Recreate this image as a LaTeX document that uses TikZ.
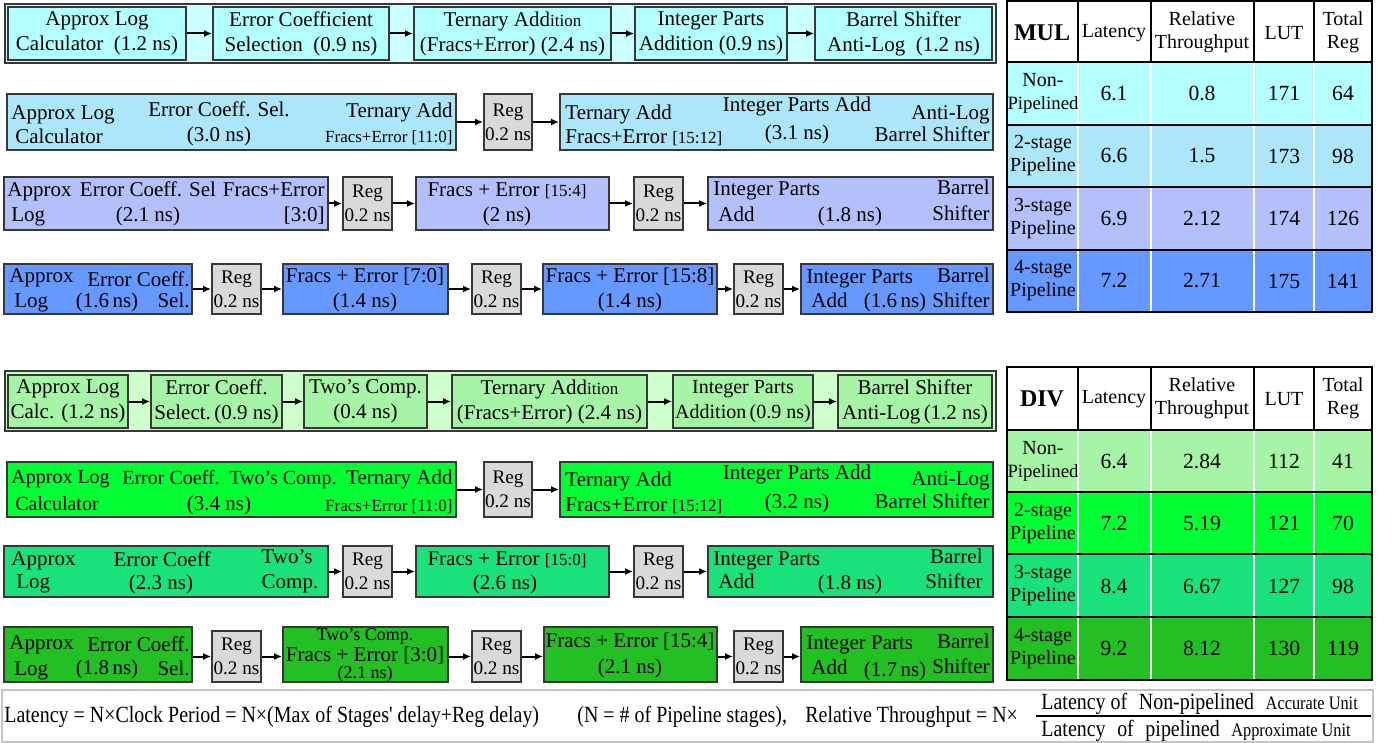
\documentclass[tikz,border=0pt]{standalone}
\usepackage{fontspec}
\setmainfont{Liberation Serif}
\newfontfamily\narrowrm[FakeStretch=0.86]{Liberation Serif}
\usetikzlibrary{arrows.meta, positioning, fit}

\definecolor{edge}{RGB}{55,55,55}
\definecolor{regfill}{RGB}{217,217,217}
\definecolor{mulframe}{RGB}{204,255,255}
\definecolor{mulA}{RGB}{179,255,255}
\definecolor{mulB}{RGB}{171,230,250}
\definecolor{mulC}{RGB}{180,192,252}
\definecolor{mulD}{RGB}{102,153,255}
\definecolor{divframe}{RGB}{204,255,204}
\definecolor{divA}{RGB}{166,245,166}
\definecolor{divB}{RGB}{0,255,51}
\definecolor{divC}{RGB}{25,226,122}
\definecolor{divD}{RGB}{34,192,34}
\definecolor{noteline}{RGB}{195,195,195}

\newcommand{\sml}[1]{{\fontsize{8.5}{10}\selectfont #1}}

\begin{document}
\begin{tikzpicture}[
    x=0.5pt, y=-0.5pt,
    >={Latex[length=4pt, width=3.5pt]}, % small filled heads
    font=\fontsize{10.5}{12.5}\selectfont,
    stage/.style={draw=edge, line width=0.9pt, inner sep=0pt}, % pipeline stage
    reg/.style={stage, fill=regfill}, % register
    rowframe/.style={draw=edge, line width=1pt},
    link/.style={->, line width=1pt},
    txt/.style={inner sep=0pt},
    mid/.style={txt, align=center},
    regtext/.style={txt, align=center, font=\fontsize{9.6}{12}\selectfont},
    lt/.style={txt, anchor=base west},
    rt/.style={txt, anchor=base east},
    ct/.style={txt, anchor=base},
    cell/.style={inner sep=0pt, align=center, font=\fontsize{10}{11.5}\selectfont},
    num/.style={cell, font=\fontsize{10.8}{12}\selectfont}
]
    \useasboundingbox (0,0) rectangle (1392,743);

    % === MUL: non-pipelined ===
    \draw[rowframe, fill=mulframe] (5,4) rectangle (996,63);
    \node[stage, fill=mulA, fit={(8,7) (186,60)}] (m1a) {};
    \node[stage, fill=mulA, fit={(213,7) (389,60)}] (m1b) {};
    \node[stage, fill=mulA, fit={(414,7) (611,60)}] (m1c) {};
    \node[stage, fill=mulA, fit={(635,7) (787,60)}] (m1d) {};
    \node[stage, fill=mulA, fit={(815,7) (992,60)}] (m1e) {};
    \node[mid] (m1a-t) at (m1a) {Approx Log\\Calculator\enspace(1.2 ns)};
    \node[mid] (m1b-t) at (m1b) {Error Coefficient\\Selection\enspace(0.9 ns)};
    \node[mid] (m1c-t) at (m1c) {Ternary Add\sml{ition}\\(Fracs+Error) (2.4 ns)};
    \node[mid] (m1d-t) at (m1d) {Integer Parts\\Addition (0.9 ns)};
    \node[mid] (m1e-t) at (m1e) {Barrel Shifter\\Anti-Log\enspace(1.2 ns)};
    \draw[link] (m1a) -- (m1b);
    \draw[link] (m1b) -- (m1c);
    \draw[link] (m1c) -- (m1d);
    \draw[link] (m1d) -- (m1e);

    % === MUL: 2-stage ===
    \node[stage, fill=mulB, fit={(7,94) (456,150)}] (m2a) {};
    \node[reg, fit={(484,94) (532,150)}] (m2r) {};
    \node[stage, fill=mulB, fit={(560,94) (993,150)}] (m2b) {};
    \node[regtext] (m2r-t) at (m2r) {Reg\\0.2 ns};
    \node[lt] (m2a-1) at (11,120) {Approx Log};
    \node[lt] (m2a-2) at (15,144) {Calculator};
    \node[ct] (m2a-3) at (219,117) {Error Coeff. Sel.};
    \node[ct] (m2a-4) at (219,142) {(3.0 ns)};
    \node[rt] (m2a-5) at (453,118) {Ternary Add};
    \node[rt] (m2a-6) at (453,143) {\sml{Fracs+Error [11:0]}};
    \node[lt] (m2b-1) at (565,120) {Ternary Add};
    \node[lt] (m2b-2) at (565,144) {Fracs+Error \sml{[15:12]}};
    \node[ct] (m2b-3) at (797,112) {Integer Parts Add};
    \node[ct] (m2b-4) at (797,140) {(3.1 ns)};
    \node[rt] (m2b-5) at (990,120) {Anti-Log};
    \node[rt] (m2b-6) at (990,142) {Barrel Shifter};
    \draw[link] (m2a) -- (m2r);
    \draw[link] (m2r) -- (m2b);

    % === MUL: 3-stage ===
    \node[stage, fill=mulC, fit={(4,177) (328,230)}] (m3a) {};
    \node[reg, fit={(343,177) (392,230)}] (m3r1) {};
    \node[stage, fill=mulC, fit={(416,177) (609,230)}] (m3b) {};
    \node[reg, fit={(634,177) (683,230)}] (m3r2) {};
    \node[stage, fill=mulC, fit={(708,177) (993,230)}] (m3c) {};
    \node[regtext] (m3r1-t) at (m3r1) {Reg\\0.2 ns};
    \node[regtext] (m3r2-t) at (m3r2) {Reg\\0.2 ns};
    \node[lt] (m3a-1) at (7,197) {Approx};
    \node[lt] (m3a-2) at (11,222) {Log};
    \node[ct] (m3a-3) at (148,197) {Error Coeff. Sel};
    \node[ct] (m3a-4) at (148,222) {(2.1 ns)};
    \node[rt] (m3a-5) at (325,197) {Fracs+Error};
    \node[rt] (m3a-6) at (325,222) {[3:0]};
    \node[ct] (m3b-1) at (507,197) {Fracs + Error \sml{[15:4]}};
    \node[ct] (m3b-2) at (507,222) {(2 ns)};
    \node[lt] (m3c-1) at (713,196) {Integer Parts};
    \node[lt] (m3c-2) at (718,222) {Add};
    \node[ct] (m3c-3) at (850,222) {(1.8 ns)};
    \node[rt] (m3c-4) at (990,195) {Barrel};
    \node[rt] (m3c-5) at (990,221) {Shifter};
    \draw[link] (m3a) -- (m3r1);
    \draw[link] (m3r1) -- (m3b);
    \draw[link] (m3b) -- (m3r2);
    \draw[link] (m3r2) -- (m3c);

    % === MUL: 4-stage ===
    \node[stage, fill=mulD, fit={(4,264) (192,314)}] (m4a) {};
    \node[reg, fit={(212,264) (261,314)}] (m4r1) {};
    \node[stage, fill=mulD, fit={(283,264) (448,314)}] (m4b) {};
    \node[reg, fit={(472,264) (521,314)}] (m4r2) {};
    \node[stage, fill=mulD, fit={(543,264) (717,314)}] (m4c) {};
    \node[reg, fit={(734,264) (783,314)}] (m4r3) {};
    \node[stage, fill=mulD, fit={(801,264) (993,314)}] (m4d) {};
    \node[regtext] (m4r1-t) at (m4r1) {Reg\\0.2 ns};
    \node[regtext] (m4r2-t) at (m4r2) {Reg\\0.2 ns};
    \node[regtext] (m4r3-t) at (m4r3) {Reg\\0.2 ns};
    \node[lt] (m4a-1) at (9,283) {Approx};
    \node[lt] (m4a-2) at (14,307) {Log};
    \node[rt] (m4a-3) at (190,286) {Error Coeff.};
    \node[ct] (m4a-4) at (107,307) {(1.6\,ns)};
    \node[rt] (m4a-5) at (190,307) {Sel.};
    \node[ct] (m4b-1) at (365,283) {Fracs + Error [7:0]};
    \node[ct] (m4b-2) at (365,307) {(1.4 ns)};
    \node[ct] (m4c-1) at (630,283) {Fracs + Error [15:8]};
    \node[ct] (m4c-2) at (630,307) {(1.4 ns)};
    \node[lt] (m4d-1) at (806,284) {Integer Parts};
    \node[lt] (m4d-2) at (811,307) {Add};
    \node[ct] (m4d-3) at (895,307) {(1.6\,ns)};
    \node[rt] (m4d-4) at (990,283) {Barrel};
    \node[rt] (m4d-5) at (990,307) {Shifter};
    \draw[link] (m4a) -- (m4r1);
    \draw[link] (m4r1) -- (m4b);
    \draw[link] (m4b) -- (m4r2);
    \draw[link] (m4r2) -- (m4c);
    \draw[link] (m4c) -- (m4r3);
    \draw[link] (m4r3) -- (m4d);

    % === DIV: non-pipelined ===
    \draw[rowframe, fill=divframe] (5,371) rectangle (996,431);
    \node[stage, fill=divA, fit={(8,375) (128,428)}] (d1a) {};
    \node[stage, fill=divA, fit={(151,375) (282,428)}] (d1b) {};
    \node[stage, fill=divA, fit={(304,375) (427,428)}] (d1c) {};
    \node[stage, fill=divA, fit={(452,375) (647,428)}] (d1d) {};
    \node[stage, fill=divA, fit={(673,375) (813,428)}] (d1e) {};
    \node[stage, fill=divA, fit={(838,375) (992,428)}] (d1f) {};
    \node[mid] (d1a-t) at (d1a) {Approx Log\\Calc. (1.2 ns)};
    \node[mid] (d1b-t) at (d1b) {Error Coeff.\\Select.\,(0.9 ns)};
    \node[mid] (d1c-t) at (d1c) {Two's Comp.\\(0.4 ns)};
    \node[mid] (d1d-t) at (d1d) {Ternary Add\sml{ition}\\(Fracs+Error) (2.4 ns)};
    \node[mid, font=\fontsize{10}{12.5}\selectfont] (d1e-t) at (d1e) {Integer Parts\\Addition\,(0.9 ns)};
    \node[mid] (d1f-t) at (d1f) {Barrel Shifter\\Anti-Log\,(1.2 ns)};
    \draw[link] (d1a) -- (d1b);
    \draw[link] (d1b) -- (d1c);
    \draw[link] (d1c) -- (d1d);
    \draw[link] (d1d) -- (d1e);
    \draw[link] (d1e) -- (d1f);

    % === DIV: 2-stage ===
    \node[stage, fill=divB, fit={(7,462) (456,517)}] (d2a) {};
    \node[reg, fit={(484,462) (532,517)}] (d2r) {};
    \node[stage, fill=divB, fit={(560,462) (993,517)}] (d2b) {};
    \node[regtext] (d2r-t) at (d2r) {Reg\\0.2 ns};
    \begin{scope}[font=\fontsize{10}{12}\selectfont]
        \node[lt] (d2a-1) at (11,483) {Approx Log};
        \node[lt] (d2a-2) at (15,510) {Calculator};
        \node[ct] (d2a-3) at (171,484) {Error Coeff.};
        \node[ct] (d2a-4) at (283,484) {Two's Comp.};
    \end{scope}
    \node[ct] (d2a-5) at (219,510) {(3.4 ns)};
    \node[rt] (d2a-6) at (453,484) {Ternary Add};
    \node[rt] (d2a-7) at (453,511) {\sml{Fracs+Error [11:0]}};
    \node[lt] (d2b-1) at (565,486) {Ternary Add};
    \node[lt] (d2b-2) at (565,511) {Fracs+Error \sml{[15:12]}};
    \node[ct] (d2b-3) at (797,479) {Integer Parts Add};
    \node[ct] (d2b-4) at (797,508) {(3.2 ns)};
    \node[rt] (d2b-5) at (990,485) {Anti-Log};
    \node[rt] (d2b-6) at (990,508) {Barrel Shifter};
    \draw[link] (d2a) -- (d2r);
    \draw[link] (d2r) -- (d2b);

    % === DIV: 3-stage ===
    \node[stage, fill=divC, fit={(4,546) (328,597)}] (d3a) {};
    \node[reg, fit={(343,546) (392,597)}] (d3r1) {};
    \node[stage, fill=divC, fit={(416,546) (609,597)}] (d3b) {};
    \node[reg, fit={(634,546) (683,597)}] (d3r2) {};
    \node[stage, fill=divC, fit={(708,546) (993,597)}] (d3c) {};
    \node[regtext] (d3r1-t) at (d3r1) {Reg\\0.2 ns};
    \node[regtext] (d3r2-t) at (d3r2) {Reg\\0.2 ns};
    \node[lt] (d3a-1) at (11,565) {Approx};
    \node[lt] (d3a-2) at (16,588) {Log};
    \node[ct] (d3a-3) at (162,566) {Error Coeff};
    \node[ct] (d3a-4) at (161,589) {(2.3 ns)};
    \node[ct] (d3a-5) at (287,563) {Two's};
    \node[ct] (d3a-6) at (290,588) {Comp.};
    \node[ct] (d3b-1) at (507,565) {Fracs + Error \sml{[15:0]}};
    \node[ct] (d3b-2) at (505,589) {(2.6 ns)};
    \node[lt] (d3c-1) at (713,565) {Integer Parts};
    \node[lt] (d3c-2) at (718,588) {Add};
    \node[ct] (d3c-3) at (850,589) {(1.8 ns)};
    \node[rt] (d3c-4) at (983,563) {Barrel};
    \node[rt] (d3c-5) at (983,588) {Shifter};
    \draw[link] (d3a) -- (d3r1);
    \draw[link] (d3r1) -- (d3b);
    \draw[link] (d3b) -- (d3r2);
    \draw[link] (d3r2) -- (d3c);

    % === DIV: 4-stage ===
    \node[stage, fill=divD, fit={(4,627) (192,682)}] (d4a) {};
    \node[reg, fit={(212,631) (261,682)}] (d4r1) {};
    \node[stage, fill=divD, fit={(283,627) (448,682)}] (d4b) {};
    \node[reg, fit={(472,631) (521,682)}] (d4r2) {};
    \node[stage, fill=divD, fit={(544,627) (717,682)}] (d4c) {};
    \node[reg, fit={(734,631) (783,682)}] (d4r3) {};
    \node[stage, fill=divD, fit={(801,627) (993,682)}] (d4d) {};
    \node[regtext] (d4r1-t) at (d4r1) {Reg\\0.2 ns};
    \node[regtext] (d4r2-t) at (d4r2) {Reg\\0.2 ns};
    \node[regtext] (d4r3-t) at (d4r3) {Reg\\0.2 ns};
    \node[lt] (d4a-1) at (9,649) {Approx};
    \node[lt] (d4a-2) at (14,675) {Log};
    \node[rt] (d4a-3) at (190,651) {Error Coeff.};
    \node[ct] (d4a-4) at (107,674) {(1.8\,ns)};
    \node[rt] (d4a-5) at (190,675) {Sel.};
    \node[ct, font=\fontsize{9}{10}\selectfont] (d4b-1) at (365,640) {Two's Comp.};
    \node[ct] (d4b-2) at (365,661) {Fracs + Error [3:0]};
    \node[ct, font=\fontsize{9}{10}\selectfont] (d4b-3) at (365,678) {(2.1 ns)};
    \node[ct] (d4c-1) at (630,647) {Fracs + Error [15:4]};
    \node[ct] (d4c-2) at (630,673) {(2.1 ns)};
    \node[lt] (d4d-1) at (806,649) {Integer Parts};
    \node[lt] (d4d-2) at (811,674) {Add};
    \node[ct] (d4d-3) at (895,676) {(1.7\,ns)};
    \node[rt] (d4d-4) at (990,648) {Barrel};
    \node[rt] (d4d-5) at (990,673) {Shifter};
    \draw[link] (d4a.east |- d4r1) -- (d4r1);
    \draw[link] (d4r1) -- (d4b.west |- d4r1);
    \draw[link] (d4b.east |- d4r2) -- (d4r2);
    \draw[link] (d4r2) -- (d4c.west |- d4r2);
    \draw[link] (d4c.east |- d4r3) -- (d4r3);
    \draw[link] (d4r3) -- (d4d.west |- d4r3);

    % === MUL table ===
    \fill[white] (1007,1) rectangle (1372,62);
    \foreach \c/\ya/\yb in {mulA/62/125, mulB/125/187, mulC/187/250, mulD/250/312}
        \fill[\c] (1007,\ya) rectangle (1372,\yb);
    \foreach \xx in {1078,1151,1254,1314} {
        \draw[line width=1pt] (\xx,1) -- (\xx,62);
        \draw[white, line width=1pt] (\xx,63) -- (\xx,311);
    }
    \foreach \yy in {62,125,187,250}
        \draw[line width=1pt] (1007,\yy) -- (1372,\yy);
    \draw[line width=1pt] (1007,1) rectangle (1372,312);
    \node[cell, font=\bfseries\fontsize{12}{13}\selectfont] (mul-h0) at (1042,33) {MUL};
    \node[cell] (mul-h1) at (1114,33) {Latency};
    \node[cell] (mul-h2) at (1202,32) {Relative\\Throughput};
    \node[cell] (mul-h3) at (1284,33) {LUT};
    \node[cell] (mul-h4) at (1343,32) {Total\\Reg};
    \foreach \lab/\lat/\thr/\lut/\reg [count=\r] in {%
        {Non-\\{\fontsize{9.4}{11}\selectfont Pipelined}}/6.1/0.8/171/64,
        {2-stage\\Pipeline}/6.6/1.5/173/98,
        {3-stage\\Pipeline}/6.9/2.12/174/126,
        {4-stage\\Pipeline}/7.2/2.71/175/141} {
        \node[cell] (mul-\r-0) at (1043,31+62.5*\r) {\lab};
        \node[num] (mul-\r-1) at (1114,31+62.5*\r) {\lat};
        \node[num] (mul-\r-2) at (1202,31+62.5*\r) {\thr};
        \node[num] (mul-\r-3) at (1284,31+62.5*\r) {\lut};
        \node[num] (mul-\r-4) at (1343,31+62.5*\r) {\reg};
    }

    % === DIV table ===
    \fill[white] (1007,367) rectangle (1372,430);
    \foreach \c/\ya/\yb in {divA/430/492, divB/492/554, divC/554/617, divD/617/680}
        \fill[\c] (1007,\ya) rectangle (1372,\yb);
    \foreach \xx in {1078,1151,1254,1314} {
        \draw[line width=1pt] (\xx,367) -- (\xx,430);
        \draw[white, line width=1pt] (\xx,431) -- (\xx,679);
    }
    \foreach \yy in {430,492,554,617}
        \draw[line width=1pt] (1007,\yy) -- (1372,\yy);
    \draw[line width=1pt] (1007,367) rectangle (1372,680);
    \node[cell, font=\bfseries\fontsize{12}{13}\selectfont] (div-h0) at (1042,399) {DIV};
    \node[cell] (div-h1) at (1114,399) {Latency};
    \node[cell] (div-h2) at (1202,398) {Relative\\Throughput};
    \node[cell] (div-h3) at (1284,399) {LUT};
    \node[cell] (div-h4) at (1343,398) {Total\\Reg};
    \foreach \lab/\lat/\thr/\lut/\reg [count=\r] in {%
        {Non-\\{\fontsize{9.4}{11}\selectfont Pipelined}}/6.4/2.84/112/41,
        {2-stage\\Pipeline}/7.2/5.19/121/70,
        {3-stage\\Pipeline}/8.4/6.67/127/98,
        {4-stage\\Pipeline}/9.2/8.12/130/119} {
        \node[cell] (div-\r-0) at (1043,398.5+62.5*\r) {\lab};
        \node[num] (div-\r-1) at (1114,398.5+62.5*\r) {\lat};
        \node[num] (div-\r-2) at (1202,398.5+62.5*\r) {\thr};
        \node[num] (div-\r-3) at (1284,398.5+62.5*\r) {\lut};
        \node[num] (div-\r-4) at (1343,398.5+62.5*\r) {\reg};
    }

    % === Formulas ===
    \draw[noteline, line width=0.8pt] (2,690) rectangle (1373,742);
    \begin{scope}[font=\narrowrm\fontsize{11.6}{13}\selectfont]
        \node[lt] (latency) at (4,722) {Latency = N×Clock Period = N×(Max of Stages' delay+Reg delay)};
        \node[lt] (nstages) at (577,722) {(N = \# of Pipeline stages),};
        \node[lt] (relthr) at (805,722) {Relative Throughput = N×};
        \node[lt] (numer) at (1041,709) {Latency of\enspace Non-pipelined\enspace{\fontsize{9.5}{11}\selectfont Accurate Unit}};
        \node[lt] (denom) at (1041,736) {Latency\enspace of\enspace pipelined\enspace{\fontsize{9.5}{11}\selectfont Approximate Unit}};
    \end{scope}
    \coordinate (barL) at (1036,716);
    \coordinate (barR) at (1371,716);
    \draw[line width=0.8pt] (barL) -- (barR);

\end{tikzpicture}
\end{document}
